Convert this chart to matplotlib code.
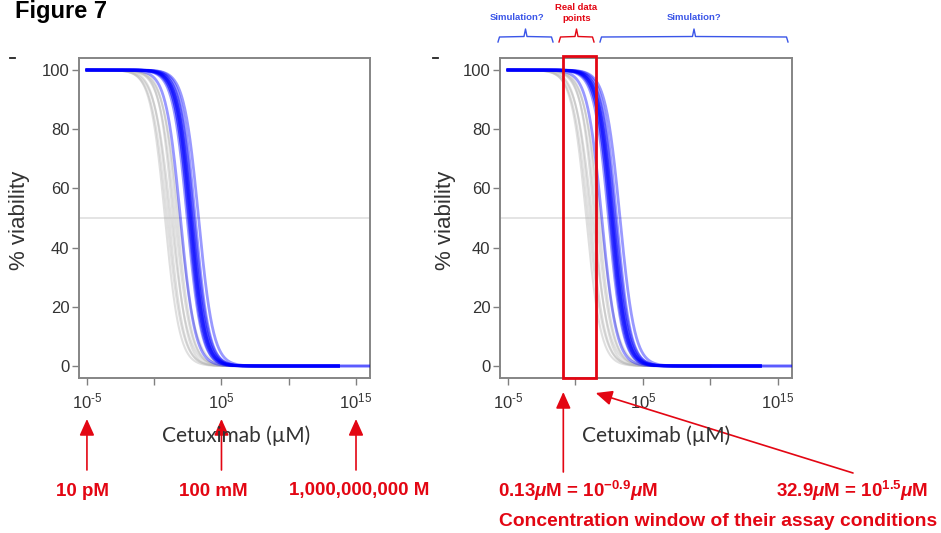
import numpy as np
import matplotlib
matplotlib.use('Agg')
import matplotlib.pyplot as plt
from matplotlib.patches import Rectangle
from matplotlib.lines import Line2D
from matplotlib.ticker import NullLocator

plt.rcParams['font.family'] = ['Liberation Sans', 'DejaVu Sans']
plt.rcParams['mathtext.fontset'] = 'custom'
plt.rcParams['mathtext.rm'] = 'Liberation Sans'
plt.rcParams['mathtext.it'] = 'Liberation Sans:italic'
plt.rcParams['mathtext.bf'] = 'Liberation Sans:bold'
plt.rcParams['mathtext.bfit'] = 'Liberation Sans:italic:bold'

# dose-response curves: log10 IC50 (uM) and Hill slope
gray_ic50 = [0.8, 0.95, 1.1, 1.25, 1.4, 1.55, 1.7, 1.85]
gray_slope = [0.8, 0.75, 0.8, 0.7, 0.85, 0.75, 0.8, 0.7]
gray_end = [10, 10, 10, 10, 10, 10, 10, 10]

blue_ic50 = [1.95, 2.45, 2.55, 2.6, 2.65, 2.7, 2.75, 2.8, 2.85, 2.95, 3.05, 3.3]
blue_slope = [0.8, 0.82, 0.85, 0.8, 0.85, 0.82, 0.85, 0.8, 0.85, 0.82, 0.85, 0.8]
blue_end = [13.7, 13.7, 13.7, 13.7, 13.7, 13.7, 13.7, 13.7, 13.7, 16.5, 13.7, 16.5]
curve_start = -5

yticks = [0, 20, 40, 60, 80, 100]
xticks = [-5, 0, 5, 10, 15]
xtick_labels = ['$10^{\\mathit{\u20105}}$', '', r'$10^{\mathit{5}}$', '', r'$10^{\mathit{15}}$']

# annotations
left_marks = [-5, 5, 15]
left_mark_labels = ['10 pM', '100 mM', '1,000,000,000 M']
window = [-0.9, 1.5]
window_labels = [r'0.13$\mathbfit{\mu}$M = 10$^{\mathbf{-0.9}}\mathbfit{\mu}$M',
                 r'32.9$\mathbfit{\mu}$M = 10$^{\mathbf{1.5}}\mathbfit{\mu}$M']

W, H = 941, 533
RED = '#e30613'
BLUE_TXT = '#3a55e8'


def viability(logx, ic50, h):
    return 100 / (1 + 10 ** (h * (logx - ic50)))


fig = plt.figure(figsize=(W / 100, H / 100), dpi=100)


def fig_xy(x, y):
    return x / W, 1 - y / H


axes = []
for x0, x1 in [(79, 370), (500, 792)]:
    ax = fig.add_axes([x0 / W, 1 - 378 / H, (x1 - x0) / W, 320 / H])
    ax.axhline(50, color='#e2e2e2', lw=1.3, zorder=1)
    for ic, h, e in zip(gray_ic50, gray_slope, gray_end):
        lx = np.linspace(curve_start, e, 500)
        ax.plot(10 ** lx, viability(lx, ic, h), color='#b4b4b4', alpha=0.42, lw=1.5, zorder=2)
    for ic, h, e in zip(blue_ic50, blue_slope, blue_end):
        lx = np.linspace(curve_start, e, 500)
        ax.plot(10 ** lx, viability(lx, ic, h), color='#0000ff', alpha=0.4, lw=2, zorder=3)
    ax.set_xscale('log')
    ax.set_xlim(10 ** -5.59, 10 ** 16.04)
    ax.set_ylim(-4.05, 104.05)
    ax.set_xticks([10.0 ** t for t in xticks])
    ax.set_xticklabels(xtick_labels)
    ax.xaxis.set_minor_locator(NullLocator())
    ax.set_yticks(yticks)
    ax.tick_params(direction='out', length=5, width=1, color='#808080',
                   labelsize=12, labelcolor='#333333')
    ax.tick_params(axis='x', pad=5)
    ax.tick_params(axis='y', pad=2)
    for s in ax.spines.values():
        s.set_color('#858585')
        s.set_linewidth(1.4)
    axes.append(ax)

axL, axR = axes

for cx in [236, 656]:
    fig.text(*fig_xy(cx, 436), 'Cetuximab (µM)', family=['Lato', 'DejaVu Sans'],
             fontsize=15, color='#333333', ha='center', va='center')
for cx in [20, 445]:
    fig.text(*fig_xy(cx, 220), '% viability', fontsize=16, color='#333333',
             rotation=90, ha='center', va='center')

fig.text(*fig_xy(15, 18), 'Figure 7', fontsize=17, fontweight='bold', ha='left', va='baseline')
for x in [10, 433]:
    fig.add_artist(Line2D([x / W, (x + 5) / W], [1 - 58 / H] * 2, color='#222222', lw=1.3))

# concentration window box
axR.add_patch(Rectangle((10 ** window[0], 0), 10 ** window[1] - 10 ** window[0], 1.006,
                        transform=axR.get_xaxis_transform(), fill=False,
                        edgecolor=RED, lw=2, clip_on=False, zorder=5))

arrow = dict(arrowstyle='-|>,head_length=1.0,head_width=0.45', color=RED, lw=1.2,
             shrinkA=0, shrinkB=0)
for m in left_marks:
    axL.annotate('', xy=(10.0 ** m, H - 419), xycoords=('data', 'figure pixels'),
                 xytext=(10.0 ** m, H - 470), textcoords=('data', 'figure pixels'),
                 arrowprops=arrow, annotation_clip=False)
for lab, cx in zip(left_mark_labels, [82, 213, 359]):
    fig.text(*fig_xy(cx, 491), lab, color=RED, fontsize=13.5, fontweight='bold',
             ha='center', va='center')

axR.annotate('', xy=(10.0 ** window[0], H - 392), xycoords=('data', 'figure pixels'),
             xytext=(10.0 ** window[0], H - 472), textcoords=('data', 'figure pixels'),
             arrowprops=arrow, annotation_clip=False)
axR.annotate('', xy=(10.0 ** window[1], H - 393), xycoords=('data', 'figure pixels'),
             xytext=(853, H - 473), textcoords='figure pixels',
             arrowprops=arrow, annotation_clip=False)
for lab, cx in zip(window_labels, [578, 852]):
    fig.text(*fig_xy(cx, 491), lab, color=RED, fontsize=13.5, fontweight='bold',
             ha='center', va='center')
fig.text(*fig_xy(718, 521), 'Concentration window of their assay conditions', color=RED,
         fontsize=13.9, fontweight='bold', ha='center', va='center')

# braces over the right panel
for x0, x1, col, lab in [(498, 553, BLUE_TXT, 'Simulation?'),
                         (559, 594, RED, 'Real data\npoints'),
                         (600, 788, BLUE_TXT, 'Simulation?')]:
    xc = (x0 + x1) / 2
    px = [x0, x0 + 1.5, xc - 1.5, xc, xc + 1.5, x1 - 1.5, x1]
    py = [42, 37, 36.5, 29, 36.5, 37, 42]
    fig.add_artist(Line2D([p / W for p in px], [1 - p / H for p in py], color=col, lw=1))
    if '\n' in lab:
        fig.text(*fig_xy(xc, 13), lab, color=col, fontsize=6.8, fontweight='bold',
                 ha='center', va='center', linespacing=1.2)
    else:
        fig.text(*fig_xy(xc - 9 if x1 - x0 < 100 else xc, 18), lab, color=col,
                 fontsize=6.8, fontweight='bold', ha='center', va='center')

fig.savefig('out.png', dpi=100)
